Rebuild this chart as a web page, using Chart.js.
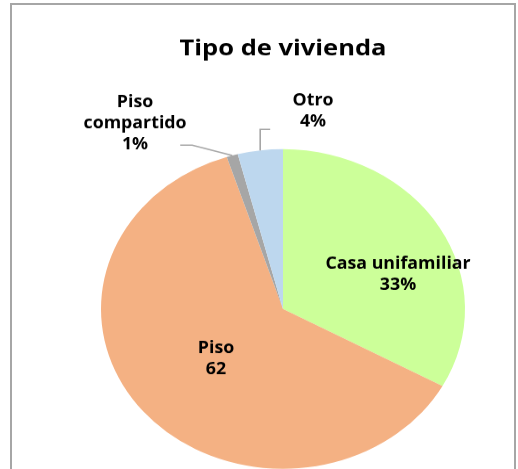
<!DOCTYPE html>
<html>
<head>
<meta charset="utf-8">
<script src="https://cdn.jsdelivr.net/npm/chart.js@4/dist/chart.umd.min.js"></script>
<style>
  html, body { margin: 0; padding: 0; background: #fff; overflow: hidden; }
  #wrap { position: relative; width: 518px; height: 469px; overflow: hidden; }
  #c { position: absolute; left: 0; top: 0; transform: scaleY(0.8783); transform-origin: 0 0; }
  #frame { position: absolute; left: 10px; top: 3px; width: 502px; height: 480px; border: 2px solid #a6a6a6; pointer-events: none; }
</style>
</head>
<body>
<div id="wrap">
  <canvas id="c" width="518" height="534"></canvas>
  <div id="frame"></div>
</div>
<script>
// ---- data ----
const categories = ['Casa unifamiliar', 'Piso', 'Piso compartido', 'Otro'];
const values = [33, 62, 1, 4];
const valueLabels = ['33%', '62', '1%', '4%'];
const titleText = 'Tipo de vivienda';

// ---- style ----
const SQUASH = 0.8783;
const colors = ['#CCFF99', '#F4B183', '#A6A6A6', '#BDD7EE'];
// label block centre, relative to pie centre, in units of radius
const labelOffsets = [
  { x: 0.632, y: -0.22 },
  { x: -0.368, y: 0.311 },
  { x: -0.813, y: -1.162 },
  { x: 0.165, y: -1.238 }
];
// leader lines: offsets (px) from the slice's outer edge mid point
const leaders = [
  null,
  null,
  [{ x: -40, y: -11.8 }, { x: -52, y: -11.8 }],
  [{ x: 0, y: -24 }, { x: 10, y: -24 }]
];
const labelFont = 'bold 17.8px "Open Sans"';
const lineGap = 24;

const labelPlugin = {
  id: 'sliceLabels',
  afterDatasetsDraw(chart) {
    const ctx = chart.ctx;
    const meta = chart.getDatasetMeta(0);
    ctx.save();
    meta.data.forEach((arc, i) => {
      const p = arc.getProps(['x', 'y', 'startAngle', 'endAngle', 'outerRadius'], true);
      const r = p.outerRadius;
      if (leaders[i]) {
        const mid = (p.startAngle + p.endAngle) / 2;
        const ex = p.x + Math.cos(mid) * r;
        const ey = p.y + Math.sin(mid) * r;
        ctx.beginPath();
        ctx.moveTo(ex, ey);
        leaders[i].forEach(o => ctx.lineTo(ex + o.x, ey + o.y));
        ctx.strokeStyle = '#a6a6a6';
        ctx.lineWidth = 1.6;
        ctx.stroke();
      }
      const cx = p.x + labelOffsets[i].x * r;
      const cy = p.y + labelOffsets[i].y * r;
      const lines = categories[i] === 'Piso compartido'
        ? ['Piso', 'compartido', valueLabels[i]]
        : [categories[i], valueLabels[i]];
      ctx.font = labelFont;
      ctx.fillStyle = '#000';
      ctx.textAlign = 'center';
      ctx.textBaseline = 'middle';
      const top = cy - (lines.length - 1) * lineGap / 2;
      lines.forEach((t, k) => {
        ctx.save();
        ctx.translate(cx, top + k * lineGap);
        ctx.scale(1, 1 / SQUASH);
        ctx.fillText(t, 0, 0);
        ctx.restore();
      });
    });
    ctx.restore();
  }
};

new Chart(document.getElementById('c'), {
  type: 'pie',
  data: {
    labels: categories,
    datasets: [{
      data: values,
      backgroundColor: colors,
      borderWidth: 0
    }]
  },
  options: {
    responsive: false,
    animation: false,
    layout: { padding: { left: 101, right: 53, top: 0, bottom: 0 } },
    plugins: {
      legend: { display: false },
      tooltip: { enabled: false },
      title: {
        display: true,
        text: titleText,
        color: '#000',
        font: { family: 'Open Sans', size: 25.5, weight: 'bold', lineHeight: 1.2 },
        padding: { top: 40, bottom: 99 }
      }
    }
  },
  plugins: [labelPlugin]
});
</script>
</body>
</html>
